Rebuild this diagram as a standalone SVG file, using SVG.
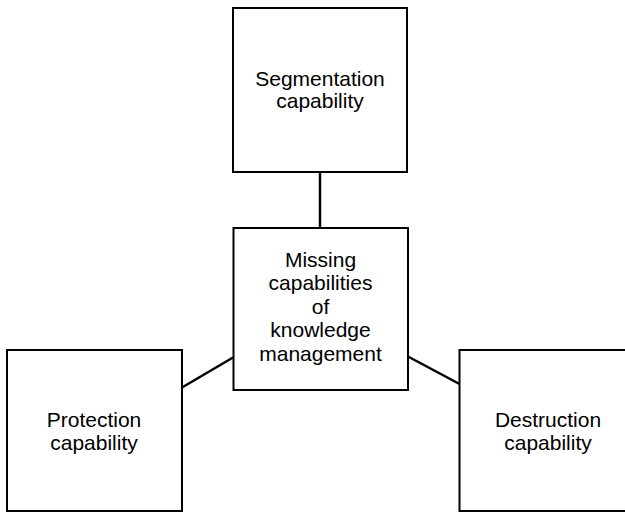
<svg xmlns="http://www.w3.org/2000/svg" width="625" height="514" viewBox="0 0 625 514">
  <style>
    .box { fill: #ffffff; stroke: #000000; stroke-width: 2; }
    .link { stroke: #000000; stroke-width: 2.5; fill: none; }
    .label { font-family: "Liberation Sans", Arial, sans-serif; font-size: 21px; fill: #000000; text-anchor: middle; }
  </style>
  <rect width="625" height="514" fill="#ffffff"/>
  <g id="connectors">
    <line class="link" x1="320" y1="172" x2="320" y2="228"/>
    <line class="link" x1="182" y1="387.5" x2="233" y2="357.5"/>
    <line class="link" x1="408" y1="356.5" x2="459.5" y2="384"/>
  </g>
  <g id="segmentation">
    <rect class="box" x="233" y="8" width="174" height="164"/>
    <text class="label" x="320" y="86">Segmentation</text>
    <text class="label" x="320" y="108">capability</text>
  </g>
  <g id="missing">
    <rect class="box" x="233.5" y="228" width="174.5" height="162"/>
    <text class="label" x="320.5" y="266.5">Missing</text>
    <text class="label" x="320.5" y="290">capabilities</text>
    <text class="label" x="320.5" y="313.5">of</text>
    <text class="label" x="320.5" y="337">knowledge</text>
    <text class="label" x="320.5" y="361">management</text>
  </g>
  <g id="protection">
    <rect class="box" x="7" y="350" width="175" height="161"/>
    <text class="label" x="94" y="426.5">Protection</text>
    <text class="label" x="94" y="450">capability</text>
  </g>
  <g id="destruction">
    <rect class="box" x="459.5" y="350" width="180" height="161"/>
    <text class="label" x="548" y="426.5">Destruction</text>
    <text class="label" x="548" y="450">capability</text>
  </g>
</svg>
